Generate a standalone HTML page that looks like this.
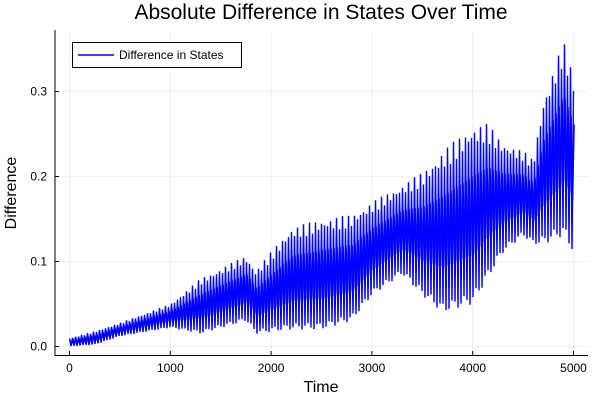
<!DOCTYPE html>
<html><head><meta charset="utf-8"><style>
body{margin:0;background:#fff;font-family:"Liberation Sans","DejaVu Sans",sans-serif}
</style></head><body>
<svg id="s" width="600" height="400" xmlns="http://www.w3.org/2000/svg" font-family="Liberation Sans, DejaVu Sans, sans-serif">
<rect width="600" height="400" fill="#fff"/>
<g stroke="#000" stroke-opacity="0.1" stroke-width="0.6">
<line x1="69.5" y1="30" x2="69.5" y2="355"/><line x1="170.3" y1="30" x2="170.3" y2="355"/>
<line x1="271.1" y1="30" x2="271.1" y2="355"/><line x1="371.9" y1="30" x2="371.9" y2="355"/>
<line x1="472.7" y1="30" x2="472.7" y2="355"/><line x1="573.5" y1="30" x2="573.5" y2="355"/>
<line x1="55" y1="346.5" x2="588" y2="346.5"/><line x1="55" y1="261.5" x2="588" y2="261.5"/>
<line x1="55" y1="176.5" x2="588" y2="176.5"/><line x1="55" y1="91.5" x2="588" y2="91.5"/>
</g>
<g id="data"></g>
<g stroke="#000" stroke-width="1">
<line x1="55" y1="30" x2="55" y2="355.5"/><line x1="54.5" y1="355.5" x2="588" y2="355.5"/>
<line x1="69.5" y1="355" x2="69.5" y2="351"/><line x1="170.3" y1="355" x2="170.3" y2="351"/>
<line x1="271.1" y1="355" x2="271.1" y2="351"/><line x1="371.9" y1="355" x2="371.9" y2="351"/>
<line x1="472.7" y1="355" x2="472.7" y2="351"/><line x1="573.5" y1="355" x2="573.5" y2="351"/>
<line x1="55" y1="346.5" x2="59" y2="346.5"/><line x1="55" y1="261.5" x2="59" y2="261.5"/>
<line x1="55" y1="176.5" x2="59" y2="176.5"/><line x1="55" y1="91.5" x2="59" y2="91.5"/>
</g>
<g font-size="12" fill="#000" text-anchor="middle">
<text x="69.5" y="372">0</text><text x="170.3" y="372">1000</text><text x="271.1" y="372">2000</text>
<text x="371.9" y="372">3000</text><text x="472.7" y="372">4000</text><text x="573.5" y="372">5000</text>
</g>
<g font-size="12" fill="#000" text-anchor="end">
<text x="47" y="350.5">0.0</text><text x="47" y="265.5">0.1</text><text x="47" y="180.5">0.2</text><text x="47" y="95.5">0.3</text>
</g>
<text x="321" y="392" font-size="16" text-anchor="middle">Time</text>
<text transform="translate(16,193) rotate(-90)" font-size="16" text-anchor="middle">Difference</text>
<text x="321" y="19" font-size="21" text-anchor="middle">Absolute Difference in States Over Time</text>
<rect x="72.5" y="42.5" width="169" height="25" fill="#fff" stroke="#000" stroke-width="1"/>
<line x1="78" y1="55" x2="114" y2="55" stroke="#00f" stroke-width="1.5"/>
<text x="119" y="59" font-size="12">Difference in States</text>
</svg>
<script>
var U=[[0,.01],[250,.018],[500,.028],[1000,.05],[1300,.08],[1750,.107],[1850,.09],[2200,.14],[2500,.15],[2800,.155],[3000,.17],[3300,.19],[3500,.205],[3700,.23],[4000,.26],[4150,.262],[4300,.24],[4500,.23],[4600,.22],[4700,.29],[4900,.36],[5000,.32]];
var L=[[0,0],[250,.002],[500,.012],[1000,.022],[1300,.015],[1750,.03],[1850,.015],[2200,.02],[2500,.02],[2800,.03],[3000,.06],[3300,.085],[3500,.06],[3700,.04],[4000,.05],[4150,.08],[4300,.11],[4500,.13],[4600,.12],[4700,.12],[4900,.13],[5000,.11]];
function f(a,t){for(var i=1;i<a.length;i++){if(t<=a[i][0]){var p=a[i-1],q=a[i],r=(t-p[0])/(q[0]-p[0]);return p[1]+r*(q[1]-p[1]);}}return a[a.length-1][1];}
function X(t){return 69.5+t*0.10080;}function Y(v){return 346.5-v*850;}
var d="",d2="";var n=168;
for(var k=0;k<=2*n;k++){var t=k*5000/(2*n);var u=f(U,t),l=f(L,t);
var jit=0.94+0.06*Math.sin(k*1.7);var v=(k%2==0)?l+(u-l)*jit:l+(u-l)*(0.03*(1+Math.sin(k*2.3)));
d+=(k?"L":"M")+X(t).toFixed(2)+" "+Y(v).toFixed(2);
var m=(u+l)/2,a=(u-l)*0.22;var w=(k%2==0)?m+a:m-a;d2+=(k?"L":"M")+X(t+7).toFixed(2)+" "+Y(w).toFixed(2);}
document.getElementById("data").innerHTML='<path d="'+d+'" fill="none" stroke="#00f" stroke-width="1.4"/><path d="'+d2+'" fill="none" stroke="#00f" stroke-width="1.2"/>';
</script>
</body></html>
